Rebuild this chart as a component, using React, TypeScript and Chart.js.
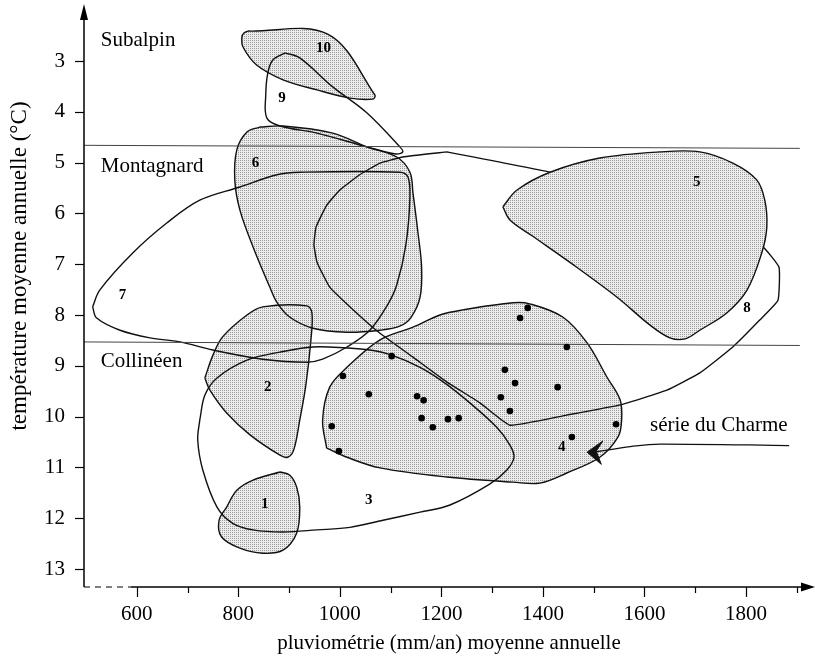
import React, { useEffect, useRef } from 'react';
import { Chart, registerables } from 'chart.js';
Chart.register(...registerables);

// ---------- axis ticks ----------
const xTickLabels = [600, 800, 1000, 1200, 1400, 1600, 1800];
const xMinorTicks = [700, 900, 1100, 1300, 1500, 1700, 1900];
const yTickLabels = [3, 4, 5, 6, 7, 8, 9, 10, 11, 12, 13];

// ---------- envelopes (pluviométrie mm/an, température °C) ----------
const shape1 = [[882, 11.09], [829, 11.25], [797, 11.45], [777, 11.78], [762, 12.04], [767, 12.37], [803, 12.59], [848, 12.69], [888, 12.63], [915, 12.29], [921, 11.78], [915, 11.39], [901, 11.15]];
const shape2 = [[734, 9.24], [750, 8.79], [769, 8.43], [817, 8.0], [848, 7.84], [935, 7.82], [945, 7.96], [943, 8.49], [933, 9.38], [921, 10.07], [909, 10.66], [897, 10.8], [882, 10.76], [823, 10.36], [777, 9.93], [744, 9.48]];
const shape3 = [[724, 10.07], [734, 9.58], [758, 9.24], [817, 8.89], [882, 8.73], [947, 8.63], [1014, 8.65], [1059, 8.69], [1102, 8.79], [1158, 9.03], [1207, 9.34], [1256, 9.73], [1309, 10.21], [1335, 10.56], [1343, 10.8], [1329, 11.05], [1295, 11.33], [1217, 11.74], [1158, 11.88], [1085, 12.04], [1020, 12.18], [955, 12.23], [888, 12.27], [829, 12.23], [789, 12.1], [758, 11.78], [730, 11.05], [720, 10.46]];
const shape4 = [[974, 10.62], [1014, 10.8], [1079, 11.01], [1211, 11.19], [1341, 11.29], [1394, 11.31], [1447, 11.11], [1512, 10.8], [1548, 10.4], [1555, 10.07], [1552, 9.67], [1526, 9.22], [1487, 8.55], [1439, 8.04], [1374, 7.78], [1341, 7.76], [1242, 7.9], [1197, 8.0], [1144, 8.24], [1079, 8.49], [1014, 9.03], [980, 9.42], [966, 10.07]];
const shape5 = [[1321, 5.87], [1349, 5.54], [1414, 5.19], [1512, 4.91], [1630, 4.79], [1709, 4.79], [1774, 5.01], [1821, 5.34], [1837, 5.74], [1841, 6.27], [1831, 6.78], [1802, 7.51], [1762, 7.96], [1709, 8.3], [1680, 8.47], [1650, 8.45], [1611, 8.2], [1546, 7.65], [1447, 6.92], [1380, 6.45], [1335, 6.13]];
const shape6 = [[842, 4.3], [888, 4.28], [986, 4.42], [1053, 4.69], [1112, 4.89], [1138, 5.19], [1144, 5.6], [1154, 6.39], [1161, 7.06], [1158, 7.65], [1140, 8.05], [1118, 8.22], [1079, 8.3], [1014, 8.34], [947, 8.26], [901, 8.04], [876, 7.75], [862, 7.45], [829, 6.66], [803, 5.93], [793, 5.34], [797, 4.75], [817, 4.4]];
const shape7 = [[513, 7.84], [527, 7.51], [592, 6.78], [659, 6.19], [724, 5.74], [803, 5.48], [876, 5.24], [921, 5.19], [1118, 5.19], [1134, 5.28], [1138, 5.68], [1130, 6.62], [1112, 7.41], [1094, 7.8], [1059, 8.3], [1014, 8.63], [966, 8.87], [935, 8.93], [848, 8.87], [750, 8.69], [685, 8.53], [626, 8.45], [567, 8.3], [521, 8.06]];
const shape8 = [[1211, 4.79], [1124, 4.89], [1079, 5.01], [1039, 5.24], [1000, 5.54], [974, 5.84], [953, 6.27], [949, 6.62], [955, 6.96], [980, 7.45], [1033, 7.96], [1079, 8.36], [1144, 8.83], [1211, 9.32], [1276, 9.73], [1335, 10.17], [1447, 9.97], [1552, 9.77], [1644, 9.48], [1709, 9.14], [1774, 8.63], [1827, 8.1], [1863, 7.71], [1865, 7.06], [1833, 6.66], [1689, 5.93], [1414, 5.19]];
const shape9 = [[892, 2.84], [921, 2.94], [986, 3.51], [1053, 4.02], [1118, 4.69], [1124, 4.79], [1110, 4.83], [1053, 4.69], [955, 4.42], [882, 4.28], [856, 4.12], [854, 3.67], [858, 3.24], [868, 2.98]];
const shape10 = [[819, 2.41], [976, 2.47], [1069, 3.67], [1065, 3.75], [1020, 3.73], [955, 3.57], [888, 3.37], [836, 3.08], [809, 2.72], [807, 2.53], [811, 2.45]];

// ---------- relevés (points) ----------
const dotsX = [1370, 1355, 1447, 1102, 1006, 1057, 1325, 1345, 1429, 1152, 1165, 1317, 1335, 1161, 1213, 1234, 1183, 984, 998, 1457, 1544];
const dotsY = [7.86, 8.06, 8.63, 8.81, 9.2, 9.56, 9.08, 9.34, 9.42, 9.6, 9.68, 9.62, 9.89, 10.03, 10.05, 10.03, 10.21, 10.19, 10.68, 10.4, 10.15];

// ---------- étages limits ----------
const limitMontagnard = [[496, 4.66], [1906, 4.72]];
const limitCollineen = [[496, 8.53], [1906, 8.6]];

// ---------- arrow "série du Charme" ----------
const arrowLine = [[1885, 10.57], [1631, 10.54], [1578, 10.58], [1526, 10.66], [1500, 10.7]];
const arrowHead = [[1487, 10.7], [1518, 10.48], [1505, 10.68], [1515, 10.94]];

// ---------- labels ----------
const shapeLabels = ['1', '2', '3', '4', '5', '6', '7', '8', '9', '10'];
const shapeLabelX = [852, 858, 1057, 1437, 1703, 834, 572, 1802, 886, 968];
const shapeLabelY = [11.72, 9.42, 11.64, 10.6, 5.38, 5.01, 7.61, 7.86, 3.73, 2.74];
const zoneNames = ['Subalpin', 'Montagnard', 'Collinéen'];
const zoneNameX = [529, 529, 529];
const zoneNameY = [2.59, 5.07, 8.91];
const noteText = 'série du Charme';
const noteX = 1611;
const noteY = 10.17;
const xTitle = 'pluviométrie (mm/an) moyenne annuelle';
const yTitle = 'température moyenne annuelle (°C)';

const SERIF = '"Liberation Serif", "DejaVu Serif", serif';

const pts = (a: number[][]) => a.map(([x, y]) => ({ x, y }));
const closed = (a: number[][]) => [...pts(a), { x: a[0][0], y: a[0][1] }];

function makePattern(): CanvasPattern | string {
  const c = document.createElement('canvas');
  c.width = 2;
  c.height = 2;
  const g = c.getContext('2d');
  if (!g) return '#d4d4d4';
  g.fillStyle = '#ececec';
  g.fillRect(0, 0, 2, 2);
  g.fillStyle = '#9c9c9c';
  g.fillRect(0, 0, 1, 1);
  const p = g.createPattern(c, 'repeat');
  return p || '#d4d4d4';
}

const overlay = {
  id: 'overlay',
  afterDraw(chart: any) {
    const { ctx, chartArea } = chart;
    const xs = chart.scales.x;
    const ys = chart.scales.y;
    ctx.save();
    ctx.strokeStyle = '#000';
    ctx.fillStyle = '#000';
    ctx.lineWidth = 1.5;
    const left = chartArea.left;
    const bottom = chartArea.bottom;
    // y axis line + arrow
    ctx.beginPath();
    ctx.moveTo(left, bottom);
    ctx.lineTo(left, chartArea.top + 12);
    ctx.stroke();
    ctx.beginPath();
    ctx.moveTo(left, chartArea.top - 1);
    ctx.lineTo(left - 4, chartArea.top + 15);
    ctx.lineTo(left + 4, chartArea.top + 15);
    ctx.closePath();
    ctx.fill();
    // x axis: dashed start, solid rest, arrow
    const solidStart = xs.getPixelForValue(588);
    ctx.setLineDash([6, 5]);
    ctx.lineWidth = 1.2;
    ctx.beginPath();
    ctx.moveTo(left, bottom);
    ctx.lineTo(solidStart, bottom);
    ctx.stroke();
    ctx.setLineDash([]);
    ctx.lineWidth = 1.5;
    ctx.beginPath();
    ctx.moveTo(solidStart, bottom);
    ctx.lineTo(chartArea.right - 8, bottom);
    ctx.stroke();
    ctx.beginPath();
    ctx.moveTo(chartArea.right + 3, bottom);
    ctx.lineTo(chartArea.right - 11, bottom - 4.5);
    ctx.lineTo(chartArea.right - 11, bottom + 4.5);
    ctx.closePath();
    ctx.fill();
    // tick marks
    ctx.lineWidth = 1.2;
    xTickLabels.forEach((v) => {
      const p = Math.round(xs.getPixelForValue(v)) + 0.5;
      ctx.beginPath();
      ctx.moveTo(p, bottom);
      ctx.lineTo(p, bottom + 10);
      ctx.stroke();
    });
    xMinorTicks.forEach((v) => {
      const p = Math.round(xs.getPixelForValue(v)) + 0.5;
      ctx.beginPath();
      ctx.moveTo(p, bottom);
      ctx.lineTo(p, bottom + 6);
      ctx.stroke();
    });
    yTickLabels.forEach((v) => {
      const p = Math.round(ys.getPixelForValue(v)) + 0.5;
      ctx.beginPath();
      ctx.moveTo(left - 9, p);
      ctx.lineTo(left, p);
      ctx.stroke();
    });
    // zone names
    ctx.font = `21px ${SERIF}`;
    ctx.textAlign = 'left';
    ctx.textBaseline = 'middle';
    zoneNames.forEach((t, i) => {
      ctx.fillText(t, xs.getPixelForValue(zoneNameX[i]), ys.getPixelForValue(zoneNameY[i]));
    });
    ctx.fillText(noteText, xs.getPixelForValue(noteX), ys.getPixelForValue(noteY));
    // envelope numbers
    ctx.font = `bold 15px ${SERIF}`;
    ctx.textAlign = 'center';
    shapeLabels.forEach((t, i) => {
      ctx.fillText(t, xs.getPixelForValue(shapeLabelX[i]), ys.getPixelForValue(shapeLabelY[i]));
    });
    // axis titles
    ctx.font = `21px ${SERIF}`;
    ctx.textAlign = 'center';
    ctx.fillText(xTitle, 449, 643);
    ctx.font = `23px ${SERIF}`;
    ctx.translate(20, 266);
    ctx.rotate(-Math.PI / 2);
    ctx.fillText(yTitle, 0, 0);
    ctx.restore();
  },
};

export default function App() {
  const ref = useRef<HTMLCanvasElement | null>(null);
  useEffect(() => {
    if (!ref.current) return;
    const pattern = makePattern();
    const line = { showLine: true, pointRadius: 0, borderColor: '#111', borderWidth: 1.4, fill: false };
    const filled = [shape10, shape6, shape2, shape1, shape4];
    const outlined = [shape1, shape2, shape3, shape4, shape6, shape7, shape9, shape10];
    const datasets: any[] = [];
    filled.forEach((s) => {
      datasets.push({ data: closed(s), showLine: true, pointRadius: 0, borderWidth: 0, borderColor: 'rgba(0,0,0,0)', backgroundColor: pattern, fill: 'shape', tension: 0.35, order: 10 });
    });
    outlined.forEach((s) => {
      datasets.push({ ...line, data: closed(s), tension: 0.35, order: 6 });
    });
    datasets.push({ ...line, data: closed(shape8), tension: 0.12, order: 6 });
    datasets.push({ ...line, data: closed(shape5), tension: 0.35, fill: 'shape', backgroundColor: pattern, order: 4 });
    datasets.push({ ...line, data: pts(limitMontagnard), borderColor: '#444', borderWidth: 1, order: 3 });
    datasets.push({ ...line, data: pts(limitCollineen), borderColor: '#444', borderWidth: 1, order: 3 });
    datasets.push({ ...line, data: pts(arrowLine), borderWidth: 1.3, tension: 0.3, order: 3 });
    datasets.push({ ...line, data: closed(arrowHead), borderWidth: 1, fill: 'shape', backgroundColor: '#111', tension: 0, order: 3 });
    datasets.push({ data: dotsX.map((x, i) => ({ x, y: dotsY[i] })), showLine: false, pointRadius: 3.3, pointBackgroundColor: '#000', pointBorderWidth: 0, order: 1 });

    const chart = new Chart(ref.current, {
      type: 'scatter',
      data: { datasets },
      options: {
        animation: false,
        responsive: false,
        maintainAspectRatio: false,
        events: [],
        layout: { autoPadding: false, padding: { top: 5, right: 3, left: 0, bottom: 0 } },
        plugins: { legend: { display: false }, tooltip: { enabled: false } },
        scales: {
          x: {
            type: 'linear',
            min: 496,
            max: 1930,
            afterFit: (s: any) => { s.height = 71; s.paddingLeft = 0; s.paddingRight = 0; },
            afterBuildTicks: (s: any) => { s.ticks = xTickLabels.map((v) => ({ value: v })); },
            grid: { display: true, drawOnChartArea: false, drawTicks: true, tickLength: 9, tickColor: 'rgba(0,0,0,0)', color: 'rgba(0,0,0,0)' },
            border: { display: false },
            ticks: { color: '#000', font: { family: SERIF, size: 21 }, padding: 6, maxRotation: 0, autoSkip: false, callback: (v: any) => String(v) },
          },
          y: {
            type: 'linear',
            reverse: true,
            min: 1.898,
            max: 13.354,
            afterFit: (s: any) => { s.width = 84; s.paddingTop = 0; s.paddingBottom = 0; },
            afterBuildTicks: (s: any) => { s.ticks = yTickLabels.map((v) => ({ value: v })); },
            grid: { display: true, drawOnChartArea: false, drawTicks: true, tickLength: 9, tickColor: 'rgba(0,0,0,0)', color: 'rgba(0,0,0,0)' },
            border: { display: false },
            ticks: { color: '#000', font: { family: SERIF, size: 21 }, padding: 10, autoSkip: false, callback: (v: any) => String(v) },
          },
        },
      },
      plugins: [overlay],
    } as any);
    return () => chart.destroy();
  }, []);
  return (
    <div style={{ position: 'fixed', left: 0, top: 0, width: 815, height: 658, background: '#fff' }}>
      <canvas ref={ref} width={815} height={658} style={{ display: 'block', width: 815, height: 658 }} />
    </div>
  );
}
